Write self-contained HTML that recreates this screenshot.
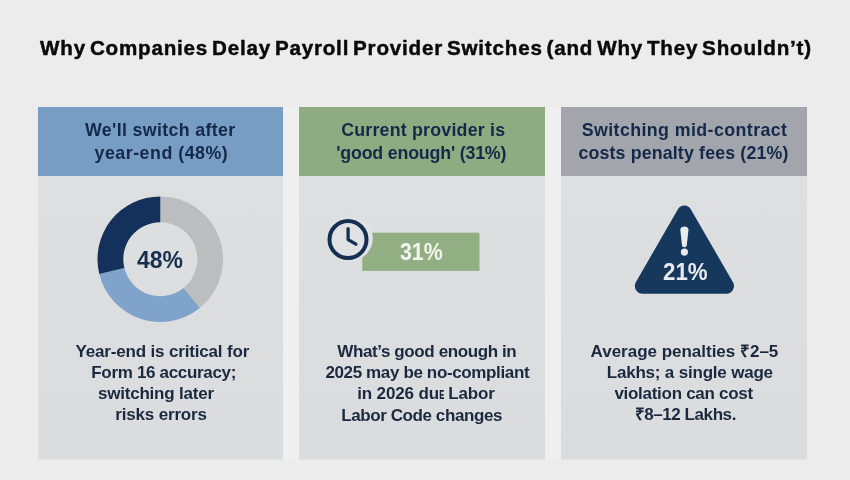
<!DOCTYPE html>
<html lang="en"><head><meta charset="utf-8">
<title>Why Companies Delay Payroll Provider Switches</title>
<style>
html,body{margin:0;padding:0;}
body{width:850px;height:480px;overflow:hidden;background:#ececec;position:relative;font-family:"Liberation Sans",sans-serif;}
h1,h2,p{margin:0;padding:0;font-size:inherit;font-weight:inherit;}
.panel{position:absolute;top:107px;height:352px;background:linear-gradient(#dedfe1,#dbdcdd);box-shadow:0 1px 0 #e3e4e4;}
.gap{position:absolute;top:107px;height:352px;background:#efeff0;}
.hdr{position:absolute;left:0;top:0;width:100%;height:69px;}
#p1{left:38px;width:245px;}
#p2{left:299px;width:246px;}
#p3{left:561px;width:246px;}
#p1 .hdr{background:#789dc4;}
#p2 .hdr{background:#8fab82;}
#p3 .hdr{background:#a2a5ab;}
.x{position:absolute;white-space:pre;line-height:1;font-weight:bold;}
.h{color:#14294a;}
.b{color:#1a2940;}
.n{transform-origin:0 50%;}
.t{color:#0a0a0a;-webkit-text-stroke:0.45px #0a0a0a;word-spacing:-2.6px;}
.g{position:absolute;left:0;top:0;}
</style></head><body>
<h1><span class="x t" style="left:40.1px;top:38.0px;font-size:20.6px;letter-spacing:0.800px;">Why Companies Delay Payroll Provider Switches (and Why They Shouldn’t)</span></h1>
<div class="gap" style="left:283px;width:16px"></div>
<div class="gap" style="left:545px;width:16px"></div>
<section class="panel" id="p1">
<h2 class="hdr">
<span class="x h" style="left:47.0px;top:15.0px;font-size:17.8px;letter-spacing:0.352px;">We'll switch after</span>
<span class="x h" style="left:56.5px;top:38.0px;font-size:17.8px;letter-spacing:0.523px;">year-end (48%)</span>
</h2>
<div class="fig">
<svg class="g" width="245" height="352" viewBox="38 107 245 352">
<path d="M160.30 196.40A62.8 62.8 0 0 1 199.82 308.00L183.58 287.95A37 37 0 0 0 160.30 222.20Z" fill="#bcbdbf"/>
<path d="M199.82 308.00A62.8 62.8 0 0 1 99.26 273.97L124.34 267.90A37 37 0 0 0 183.58 287.95Z" fill="#7fa3cb"/>
<path d="M99.26 273.97A62.8 62.8 0 0 1 160.30 196.40L160.30 222.20A37 37 0 0 0 124.34 267.90Z" fill="#13315a"/>
</svg>
<span class="x n" style="left:98.8px;top:141.0px;font-size:24px;transform:scaleX(0.957);color:#15304f;">48%</span>
</div>
<p>
<span class="x b" style="left:37.5px;top:236.0px;font-size:17px;letter-spacing:-0.167px;">Year-end is critical for</span>
<span class="x b" style="left:53.3px;top:257.0px;font-size:17px;letter-spacing:-0.322px;">Form 16 accuracy;</span>
<span class="x b" style="left:59.9px;top:278.0px;font-size:17px;letter-spacing:-0.202px;">switching later</span>
<span class="x b" style="left:77.3px;top:299.0px;font-size:17px;letter-spacing:-0.171px;">risks errors</span>
</p>
</section>
<section class="panel" id="p2">
<h2 class="hdr">
<span class="x h" style="left:42.2px;top:15.0px;font-size:17.8px;letter-spacing:0.212px;">Current provider is</span>
<span class="x h" style="left:37.3px;top:38.0px;font-size:17.8px;letter-spacing:-0.185px;">'good enough' (31%)</span>
</h2>
<div class="fig">
<svg class="g" width="246" height="352" viewBox="299 107 246 352">
<rect x="362.3" y="232.7" width="117.2" height="38.2" fill="#91af83"/>
<circle cx="349.5" cy="238" r="23.4" fill="#e0e1e3"/>
<circle cx="348" cy="239.6" r="18.5" fill="none" stroke="#142f52" stroke-width="4"/>
<path d="M348.1 228.6V239.6L355.9 244.2" fill="none" stroke="#142f52" stroke-width="3.3" stroke-linecap="round" stroke-linejoin="round"/>
</svg>
<span class="x n" style="left:100.8px;top:134.0px;font-size:23.5px;transform:scaleX(0.908);color:#f3f4ef;">31%</span>
</div>
<p>
<span class="x b" style="left:38.3px;top:236.0px;font-size:17px;letter-spacing:-0.395px;">What’s good enough in</span>
<span class="x b" style="left:26.4px;top:257.0px;font-size:17px;letter-spacing:-0.364px;">2025 may be no-compliant</span>
<span class="x b" style="left:58.2px;top:278.0px;font-size:17px;letter-spacing:-0.137px;">in 2026 du<span style="display:inline-block;width:4.6px;transform:scaleX(.62);transform-origin:0 50%;letter-spacing:0">ᴇ</span> Labor</span>
<span class="x b" style="left:42.2px;top:300.0px;font-size:17px;letter-spacing:-0.408px;">Labor Code changes</span>
</p>
</section>
<section class="panel" id="p3">
<h2 class="hdr">
<span class="x h" style="left:20.7px;top:15.0px;font-size:17.8px;letter-spacing:0.415px;">Switching mid-contract</span>
<span class="x h" style="left:17.4px;top:38.0px;font-size:17.8px;letter-spacing:0.150px;">costs penalty fees (21%)</span>
</h2>
<div class="fig">
<svg class="g" width="246" height="352" viewBox="561 107 246 352">
<path d="M684.35 213.2L726.4 286.1H642.4Z" fill="#16385d" stroke="#16385d" stroke-width="15.2" stroke-linejoin="round"/>
<path d="M680.3 229.8C680.3 225.3 688.5 225.3 688.5 229.8L686.7 246Q684.4 248.6 682.1 246Z" fill="#e9ecef"/>
<circle cx="684.4" cy="252.1" r="3.6" fill="#e9ecef"/>
</svg>
<span class="x n" style="left:102.1px;top:153.0px;font-size:24px;transform:scaleX(0.928);color:#e9ecef;">21%</span>
</div>
<p>
<span class="x b" style="left:29.6px;top:236.0px;font-size:17px;letter-spacing:-0.013px;">Average penalties ₹2–5</span>
<span class="x b" style="left:45.7px;top:257.0px;font-size:17px;letter-spacing:-0.193px;">Lakhs; a single wage</span>
<span class="x b" style="left:53.4px;top:278.0px;font-size:17px;letter-spacing:-0.282px;">violation can cost</span>
<span class="x b" style="left:73.6px;top:299.0px;font-size:17px;letter-spacing:-0.419px;">₹8–12 Lakhs.</span>
</p>
</section>
</body></html>
